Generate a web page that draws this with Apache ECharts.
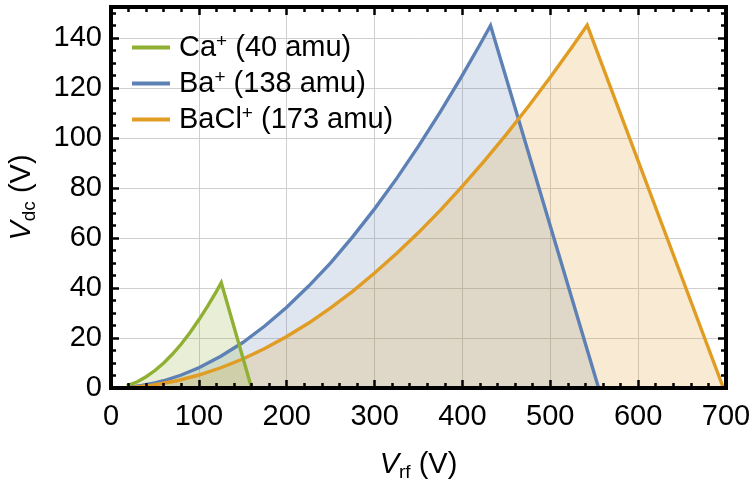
<!DOCTYPE html>
<html>
<head>
<meta charset="utf-8">
<script src="https://cdn.jsdelivr.net/npm/echarts@6/dist/echarts.min.js"></script>
<style>
html,body{margin:0;padding:0;background:#fff;}
#c{width:753px;height:484px;}
</style>
</head>
<body>
<div id="c"></div>
<script>
// ---- data ----
var ionNames = ['Ca', 'Ba', 'BaCl'];
var ionMasses = [40, 138, 173];

var caX = [18, 30, 40, 50, 60, 70, 80, 90, 100, 110, 120, 125.5, 160];
var caY = [0.9, 2.5, 4.5, 7.0, 10.0, 13.6, 17.6, 22.2, 27.3, 32.8, 38.7, 42.2, 0];

var baX = [20, 35, 50, 60, 80, 100, 125, 150, 175, 200, 225, 250, 275, 300, 325, 350, 375, 400, 420, 432, 555];
var baY = [0.3, 1.0, 2.0, 2.9, 5.2, 8.1, 12.7, 18.2, 24.8, 32.3, 40.8, 50.1, 60.5, 71.7, 83.8, 96.8, 110.6, 125.2, 137.5, 145.1, 0];

var baclX = [25, 45, 75, 100, 125, 150, 175, 200, 225, 250, 275, 300, 325, 350, 375, 400, 425, 450, 475, 500, 525, 542, 697];
var baclY = [0.3, 1.0, 2.9, 5.2, 8.1, 11.6, 15.8, 20.6, 26.0, 32.1, 38.7, 46.0, 53.8, 62.2, 71.2, 80.8, 90.9, 101.5, 112.7, 124.4, 136.6, 145.2, 0];

var xMin = 0, xMax = 700, xMajor = 100, xMinor = 20;
var yMin = 0, yMax = 152.5, yMajor = 20, yMinor = 5;

// ---- build chart ----
function pairs(xs, ys) { return xs.map(function (x, i) { return [x, ys[i]]; }); }
var legendNames = ionNames.map(function (n, i) { return n + '+ (' + ionMasses[i] + ' amu)'; });

var colors = { Ca: '#8FB032', Ba: '#5E81B5', BaCl: '#E19C24' };
var FONT = 'Liberation Sans, Arial, Helvetica, sans-serif';
var FS = 29;

function mkSeries(idx, xs, ys) {
  var nm = ionNames[idx];
  return {
    name: legendNames[idx], type: 'line', data: pairs(xs, ys),
    xAxisIndex: 0, yAxisIndex: 0,
    showSymbol: false, symbol: 'none', smooth: false, z: 2,
    lineStyle: { color: colors[nm], width: 3.4, join: 'miter' },
    itemStyle: { color: colors[nm] },
    areaStyle: { color: colors[nm], opacity: 0.2 },
    emphasis: { disabled: true }, animation: false
  };
}

function frameAxis(kind, pos, interval, len) {
  return {
    type: 'value', position: pos,
    min: kind === 'x' ? xMin : yMin, max: kind === 'x' ? xMax : yMax,
    interval: interval, z: 5,
    axisLine: { show: true, onZero: false, lineStyle: { color: '#000', width: 4, cap: 'square' } },
    axisTick: { show: true, inside: true, length: len, lineStyle: { color: '#000', width: 2.5 } },
    splitLine: { show: false },
    axisLabel: { show: false }
  };
}

var titleRich = {
  i: { fontFamily: FONT, fontSize: FS, fontStyle: 'italic', color: '#000', lineHeight: 34, verticalAlign: 'middle' },
  s: { fontFamily: FONT, fontSize: 19, color: '#000', lineHeight: 19, verticalAlign: 'bottom' },
  n: { fontFamily: FONT, fontSize: FS, color: '#000', lineHeight: 34, verticalAlign: 'middle' }
};

var xAxes = [
  Object.assign(frameAxis('x', 'bottom', xMajor, 8), {
    axisLabel: { show: true, fontFamily: FONT, fontSize: FS, color: '#000', margin: 14,
      formatter: function (v) { return (v % xMajor === 0) ? String(v) : ''; } },
    name: '{i|V}{s|rf}{n| (V)}', nameLocation: 'middle', nameGap: 60,
    nameTextStyle: { rich: titleRich }
  }),
  frameAxis('x', 'bottom', xMinor, 5),
  frameAxis('x', 'top', xMajor, 8),
  frameAxis('x', 'top', xMinor, 5),
  { type: 'value', position: 'bottom', min: xMin, max: xMax, interval: xMajor, z: 0,
    axisLine: { show: false }, axisTick: { show: false }, axisLabel: { show: false },
    splitLine: { show: true, lineStyle: { color: '#cfcfcf', width: 1 } } }
];

var yAxes = [
  Object.assign(frameAxis('y', 'left', yMajor, 8), {
    axisLabel: { show: true, fontFamily: FONT, fontSize: FS, color: '#000', margin: 9,
      formatter: function (v) { return (v % yMajor === 0) ? String(v) : ''; } },
    name: '{i|V}{s|dc}{n| (V)}', nameLocation: 'middle', nameGap: 72, nameRotate: 90,
    nameTextStyle: { rich: titleRich }
  }),
  frameAxis('y', 'left', yMinor, 5),
  frameAxis('y', 'right', yMajor, 8),
  frameAxis('y', 'right', yMinor, 5),
  { type: 'value', position: 'left', min: yMin, max: yMax, interval: yMajor, z: 0,
    axisLine: { show: false }, axisTick: { show: false }, axisLabel: { show: false },
    splitLine: { show: true, lineStyle: { color: '#cfcfcf', width: 1 } } }
];

var option = {
  backgroundColor: '#fff',
  animation: false,
  grid: { left: 111, right: 27, top: 7, bottom: 96, containLabel: false, outerBoundsMode: 'none' },
  legend: {
    show: true, orient: 'vertical', left: 132, top: 32, padding: 0,
    data: [legendNames[0], legendNames[1], legendNames[2]],
    icon: 'rect', itemWidth: 38, itemHeight: 4, itemGap: 6,
    selectedMode: false,
    formatter: function (name) {
      var i = legendNames.indexOf(name);
      return '{a|' + ionNames[i] + '}{s|+}{a| (' + ionMasses[i] + ' amu)}';
    },
    textStyle: {
      padding: [0, 0, 0, 4],
      rich: {
        a: { fontFamily: FONT, fontSize: FS, color: '#000', lineHeight: 31, verticalAlign: 'middle' },
        s: { fontFamily: FONT, fontSize: 19, color: '#000', lineHeight: 19, verticalAlign: 'top' }
      }
    }
  },
  xAxis: xAxes,
  yAxis: yAxes,
  series: [
    mkSeries(1, baX, baY),
    mkSeries(2, baclX, baclY),
    mkSeries(0, caX, caY)
  ]
};

var chart = echarts.init(document.getElementById('c'), null, { renderer: 'canvas' });
chart.setOption(option);
</script>
</body>
</html>
